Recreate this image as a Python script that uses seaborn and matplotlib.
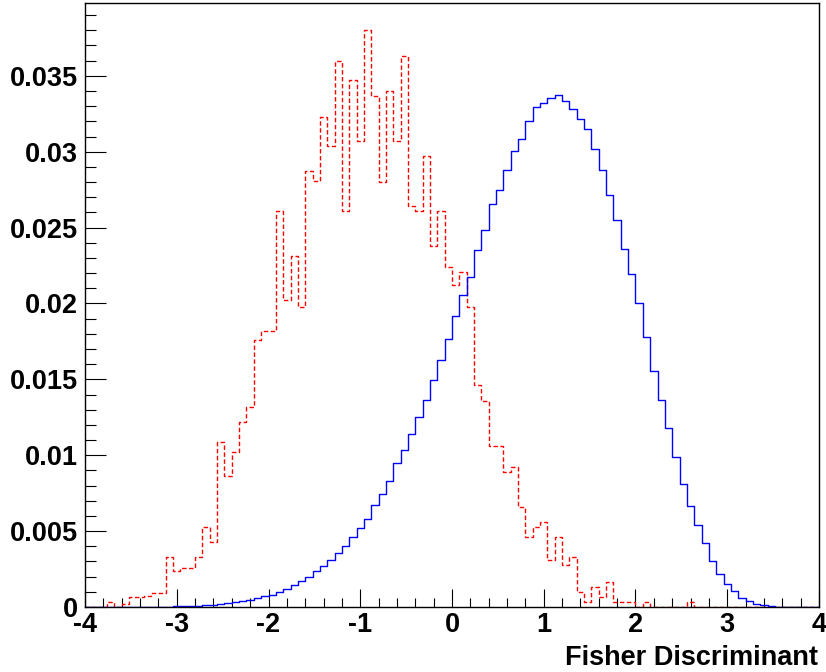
import numpy as np
import pandas as pd
import matplotlib
matplotlib.use("Agg")
import matplotlib.pyplot as plt
from matplotlib.ticker import FixedLocator, MultipleLocator
import seaborn as sns

# ---------------- data ----------------
x_min, x_max, n_bins = -4.0, 4.0, 100

background = [
    0, 0, 0, 0.0003, 0.0, 0.0002, 0.00066, 0.00066, 0.0007, 0.00095,
    0.00095, 0.0033, 0.0024, 0.0026, 0.0026, 0.0033, 0.0053, 0.0043, 0.0109, 0.0086,
    0.0102, 0.0122, 0.0132, 0.0176, 0.0182, 0.0182, 0.0261, 0.0202, 0.0231, 0.0198,
    0.0287, 0.0281, 0.0323, 0.0304, 0.0360, 0.0261, 0.0347, 0.0307, 0.0380, 0.0337,
    0.0280, 0.0340, 0.0307, 0.0363, 0.0264, 0.0261, 0.0297, 0.0238, 0.0261, 0.0224,
    0.0212, 0.0221, 0.0198, 0.0146, 0.0136, 0.0106, 0.0106, 0.0089, 0.0092, 0.0066,
    0.0046, 0.0053, 0.0056, 0.0031, 0.0046, 0.0028, 0.0033, 0.0010, 0.00033, 0.0013,
    0.00066, 0.00165, 0.00033, 0.00033, 0.00033, 0.0, 0.00033, 0, 0, 0,
    0, 0, 0.00033, 0, 0, 0, 0, 0, 0, 0,
    0, 0, 0, 0, 0, 0, 0, 0, 0, 0,
]

signal = [
    0, 0, 0, 0, 0.00001, 0.00001, 0.00001, 0.00001, 0.00002, 0.00002,
    0.00003, 0.00003, 0.00004, 0.00005, 0.00006, 0.00008, 0.0001, 0.00013, 0.00018, 0.00024,
    0.00031, 0.00039, 0.00048, 0.00059, 0.0007, 0.00079, 0.00099, 0.00116, 0.00145, 0.00171,
    0.00198, 0.00235, 0.00268, 0.00312, 0.00356, 0.0040, 0.00462, 0.00522, 0.00582, 0.0067,
    0.00747, 0.00832, 0.00946, 0.01035, 0.01142, 0.01249, 0.01361, 0.01496, 0.01628, 0.01765,
    0.01916, 0.02057, 0.02177, 0.02354, 0.02484, 0.02654, 0.0275, 0.02878, 0.03008, 0.03084,
    0.03204, 0.03293, 0.03321, 0.03355, 0.03371, 0.03337, 0.03282, 0.03214, 0.03152, 0.03019,
    0.02881, 0.02716, 0.02552, 0.02359, 0.02195, 0.0200, 0.0178, 0.01556, 0.01363, 0.01178,
    0.00988, 0.00808, 0.00665, 0.0054, 0.0042, 0.00303, 0.0022, 0.00154, 0.00105, 0.00062,
    0.00037, 0.00022, 0.0001, 0.00005, 0.00003, 0.00002, 0.00001, 0.00001, 0, 0,
]

x_ticks = [-4, -3, -2, -1, 0, 1, 2, 3, 4]
x_tick_labels = ["-4", "-3", "-2", "-1", "0", "1", "2", "3", "4"]
y_ticks = [0, 0.005, 0.01, 0.015, 0.02, 0.025, 0.03, 0.035]
y_tick_labels = ["0", "0.005", "0.01", "0.015", "0.02", "0.025", "0.03", "0.035"]
x_title = "Fisher Discriminant"

# ---------------- figure ----------------
sns.set_style("white")
plt.rcParams["font.family"] = ["Liberation Sans", "DejaVu Sans"]
plt.rcParams["font.weight"] = "bold"
plt.rcParams["text.color"] = "black"
plt.rcParams["xtick.color"] = "black"
plt.rcParams["ytick.color"] = "black"
plt.rcParams["xtick.labelcolor"] = "black"
plt.rcParams["ytick.labelcolor"] = "black"

W, H = 826, 672
FS = 19.5
fig = plt.figure(figsize=(W / 100, H / 100), dpi=100)
ax = fig.add_axes([85 / W, 1 - 607 / H, (819 - 85) / W, (607 - 3) / H])

width = (x_max - x_min) / n_bins
centers = [x_min + width * (i + 0.5) for i in range(n_bins)]
df = pd.DataFrame({"x": centers, "bkg": background, "sig": signal})

sns.histplot(data=df, x="x", weights="bkg", bins=n_bins, binrange=(x_min, x_max),
             element="step", fill=False, stat="count",
             color="#ff0000", linewidth=1.0, linestyle=(0, (3.2, 1.8)), ax=ax)
sns.histplot(data=df, x="x", weights="sig", bins=n_bins, binrange=(x_min, x_max),
             element="step", fill=False, stat="count",
             color="#0000ff", linewidth=1.0, ax=ax)

ax.set_xlim(x_min, x_max)
ax.set_ylim(0, 0.0398)
ax.set_xlabel("")
ax.set_ylabel("")

ax.xaxis.set_major_locator(FixedLocator(x_ticks))
ax.set_xticklabels(x_tick_labels)
ax.xaxis.set_minor_locator(MultipleLocator(0.2))
ax.yaxis.set_major_locator(FixedLocator(y_ticks))
ax.set_yticklabels(y_tick_labels)
ax.yaxis.set_minor_locator(MultipleLocator(0.001))

ax.tick_params(axis="x", which="major", direction="in", length=13, width=0.8,
               color="black", labelcolor="black", labelsize=FS, pad=3.5,
               bottom=True, top=False)
ax.tick_params(axis="x", which="minor", direction="in", length=6.5, width=0.8,
               color="black", bottom=True, top=False)
ax.tick_params(axis="y", which="major", direction="in", length=15, width=0.8,
               color="black", labelcolor="black", labelsize=FS, pad=5,
               left=True, right=False)
ax.tick_params(axis="y", which="minor", direction="in", length=8, width=0.8,
               color="black", left=True, right=False)
for lab in ax.get_xticklabels() + ax.get_yticklabels():
    lab.set_fontweight("bold")
    lab.set_color("black")

for s in ax.spines.values():
    s.set_visible(True)
    s.set_color("black")
    s.set_linewidth(1.0)

fig.text(818 / W, 1 - 658 / H, x_title, ha="right", va="center",
         fontsize=FS, fontweight="bold", color="black")

fig.savefig("out.png", dpi=100, facecolor="white")
